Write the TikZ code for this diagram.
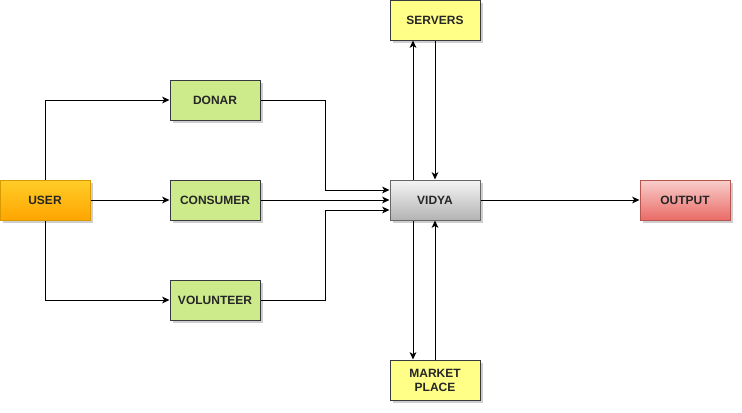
\documentclass[tikz,border=0pt]{standalone}
\usepackage{fontspec}
\setmainfont{Liberation Sans}
\usetikzlibrary{arrows.meta,shadows}
\definecolor{usrT}{HTML}{FFCD28}
\definecolor{usrB}{HTML}{FFA500}
\definecolor{usrD}{HTML}{D79B00}
\definecolor{grn}{HTML}{CDEB8B}
\definecolor{dk}{HTML}{36393D}
\definecolor{ylw}{HTML}{FFFF88}
\definecolor{gT}{HTML}{F5F5F5}
\definecolor{gB}{HTML}{B3B3B3}
\definecolor{gD}{HTML}{666666}
\definecolor{rT}{HTML}{F8CECC}
\definecolor{rB}{HTML}{EA6B66}
\definecolor{rD}{HTML}{B85450}
\tikzset{
  box/.style={draw, line width=0.75pt, minimum width=67.5pt, minimum height=30pt, inner sep=1pt,
    align=center, font=\fontsize{9}{10.5}\selectfont\bfseries, text=black!85,
    drop shadow={shadow xshift=2.2pt, shadow yshift=-2.2pt, fill=black!55, opacity=0.35}},
  greenbox/.style={box, fill=grn, draw=dk},
  yellowbox/.style={box, fill=ylw, draw=dk},
  userbox/.style={box, draw=usrD, top color=usrT, bottom color=usrB},
  vidyabox/.style={box, draw=gD, top color=gT, bottom color=gB},
  outbox/.style={box, draw=rD, top color=rT, bottom color=rB},
  conn/.style={draw, line width=0.75pt, -{Stealth[length=5.5pt,width=5pt,inset=1.5pt]}},
}
\begin{document}
\begin{tikzpicture}[x=0.75pt,y=-0.75pt]
\useasboundingbox (0,0) rectangle (742,412);
\node[userbox] (user) at (45,200) {USER};
\node[greenbox] (donar) at (215,100) {DONAR};
\node[greenbox] (consumer) at (215,200) {CONSUMER};
\node[greenbox] (volunteer) at (215,300) {VOLUNTEER};
\node[vidyabox] (vidya) at (435,200) {VIDYA};
\node[yellowbox] (servers) at (435,20) {SERVERS};
\node[yellowbox] (market) at (435,380) {MARKET\\PLACE};
\node[outbox] (output) at (685,200) {OUTPUT};

\draw[conn] (user.north) |- (donar.west);
\draw[conn] (user.east) -- (consumer.west);
\draw[conn] (user.south) |- (volunteer.west);
\draw[conn] (donar.east) -- ++(65,0) |- ([yshift=7.5pt]vidya.west);
\draw[conn] (consumer.east) -- (vidya.west);
\draw[conn] (volunteer.east) -- ++(65,0) |- ([yshift=-7.5pt]vidya.west);
\draw[conn] ([xshift=-16.5pt]vidya.north) -- ([xshift=-16.5pt]servers.south);
\draw[conn] (servers.south) -- (vidya.north);
\draw[conn] ([xshift=-16.5pt]vidya.south) -- ([xshift=-16.5pt]market.north);
\draw[conn] (market.north) -- (vidya.south);
\draw[conn] (vidya.east) -- (output.west);
\end{tikzpicture}
\end{document}
